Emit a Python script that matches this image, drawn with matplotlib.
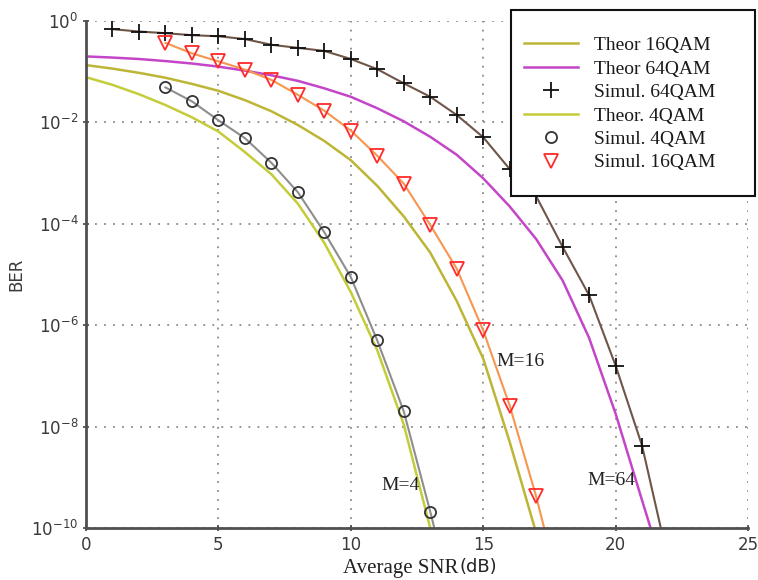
import matplotlib
matplotlib.use("Agg")
import matplotlib.pyplot as plt
from matplotlib.patches import Rectangle

# theoretical curves (at integer SNR)
snr_th4 = [0, 1, 2, 3, 4, 5, 6, 7, 8, 9, 10, 11, 12, 13, 13.2]
ber_th4 = [7.8e-2, 5.5e-2, 3.6e-2, 2.2e-2, 1.26e-2, 6.6e-3, 2.6e-3, 9.5e-4,
           2.5e-4, 4.2e-5, 4.5e-6, 3.2e-7, 1.1e-8, 1.0e-10, 4e-11]

snr_th16 = [0, 1, 2, 3, 4, 5, 6, 7, 8, 9, 10, 11, 12, 13, 14, 15, 16, 17]
ber_th16 = [1.35e-1, 1.15e-1, 9.5e-2, 7.6e-2, 5.75e-2, 4.2e-2, 2.75e-2, 1.66e-2,
            8.9e-3, 4.3e-3, 1.8e-3, 5.6e-4, 1.4e-4, 2.7e-5, 3.0e-6, 2.2e-7,
            5.0e-9, 8e-11]

snr_th64 = [0, 1, 2, 3, 4, 5, 6, 7, 8, 9, 10, 11, 12, 13, 14, 15, 16, 17, 18,
            19, 20, 21, 21.5]
ber_th64 = [2.0e-1, 1.9e-1, 1.78e-1, 1.62e-1, 1.45e-1, 1.26e-1, 1.05e-1, 8.5e-2,
            6.6e-2, 4.7e-2, 3.2e-2, 1.9e-2, 1.05e-2, 5.2e-3, 2.3e-3, 7.9e-4,
            2.2e-4, 5.0e-5, 7.6e-6, 5.6e-7, 1.8e-8, 3.5e-10, 5e-11]

# simulated points
snr_sim4 = [3, 4, 5, 6, 7, 8, 9, 10, 11, 12, 13]
ber_sim4 = [4.9e-2, 2.6e-2, 1.1e-2, 4.9e-3, 1.6e-3, 4.2e-4, 6.8e-5, 8.9e-6,
            5.0e-7, 2.0e-8, 2.1e-10]

snr_sim16 = [3, 4, 5, 6, 7, 8, 9, 10, 11, 12, 13, 14, 15, 16, 17]
ber_sim16 = [3.7e-1, 2.3e-1, 1.6e-1, 1.1e-1, 6.9e-2, 3.5e-2, 1.7e-2, 6.9e-3,
             2.2e-3, 6.2e-4, 9.5e-5, 1.3e-5, 7.9e-7, 2.6e-8, 4.2e-10]

snr_sim64 = [1, 2, 3, 4, 5, 6, 7, 8, 9, 10, 11, 12, 13, 14, 15, 16, 17, 18,
             19, 20, 21]
ber_sim64 = [6.9e-1, 6.2e-1, 5.75e-1, 5.25e-1, 5.0e-1, 4.4e-1, 3.4e-1, 2.95e-1,
             2.57e-1, 1.78e-1, 1.12e-1, 5.9e-2, 3.2e-2, 1.4e-2, 5.1e-3, 1.2e-3,
             3.5e-4, 3.5e-5, 3.9e-6, 1.6e-7, 4.2e-9]

# where the simulated lines run out at the bottom of the plot
sim_ends = {4: (13.2, 8e-11), 16: (17.35, 8e-11), 64: (21.75, 8e-11)}

c_th4 = '#c5cc3a'
c_th16 = '#bdb536'
c_th64 = '#c446c8'
serif = 'Liberation Serif'

fig = plt.figure(figsize=(7.58, 5.8), dpi=100)
ax = fig.add_axes([86 / 758, 1 - 528 / 580, 662 / 758, 507 / 580])

th16, = ax.plot(snr_th16, ber_th16, color=c_th16, lw=1.8)
th64, = ax.plot(snr_th64, ber_th64, color=c_th64, lw=1.8)
th4, = ax.plot(snr_th4, ber_th4, color=c_th4, lw=1.8)

ax.plot(snr_sim4 + [sim_ends[4][0]], ber_sim4 + [sim_ends[4][1]], color='#8e8e8e', lw=1.5)
ax.plot(snr_sim16 + [sim_ends[16][0]], ber_sim16 + [sim_ends[16][1]], color='#f6964f', lw=1.5)
ax.plot(snr_sim64 + [sim_ends[64][0]], ber_sim64 + [sim_ends[64][1]], color='#6e5548', lw=1.5)

s64, = ax.plot(snr_sim64, ber_sim64, ls='none', marker='+', ms=11, mew=1.3, color='#111111')
s4, = ax.plot(snr_sim4, ber_sim4, ls='none', marker='o', ms=8, mew=1.3,
              mfc='none', mec='#333333')
s16, = ax.plot(snr_sim16, ber_sim16, ls='none', marker='v', ms=10, mew=1.3,
               mfc='none', mec='#ff2a2a')

ax.set_yscale('log')
ax.set_xlim(0, 25)
ax.set_ylim(1e-10, 1)
ax.set_xticks([0, 5, 10, 15, 20, 25])
ax.set_yticks([1e-10, 1e-8, 1e-6, 1e-4, 1e-2, 1])
ax.minorticks_off()
ax.set_yticklabels(['$10^{-10}$', '$10^{-8}$', '$10^{-6}$', '$10^{-4}$', '$10^{-2}$', '$10^{0}$'])
ax.tick_params(axis='both', direction='inout', length=5, width=1.2, color='#444444',
               labelsize=12, labelcolor='#3a3a3a')
ax.tick_params(axis='x', pad=3)
ax.tick_params(axis='y', pad=3)
ax.grid(True, color='#8a8a8a', ls=(0, (1, 4)), lw=1.3)

for side in ['top', 'right']:
    ax.spines[side].set_visible(False)
for side in ['left', 'bottom']:
    ax.spines[side].set_color('#505050')
    ax.spines[side].set_linewidth(2)

ax.set_ylabel('BER', fontsize=12, color='#3a3a3a')
ax.yaxis.set_label_coords(-61 / 662, 0.5)

fig.text(458 / 758, 1 - 568 / 580, 'Average SNR', ha='right', va='center',
         family=serif, fontsize=15, color='#222222')
fig.text(459 / 758, 1 - 567 / 580, '(dB)', ha='left', va='center',
         fontsize=13, color='#222222')

ax.text(15.5, 10 ** -6.71, 'M=16', family=serif, fontsize=14,
        color='#222222', va='center')
ax.text(18.94, 10 ** -9.07, 'M=64', family=serif, fontsize=14,
        color='#222222', va='center')
ax.text(11.16, 10 ** -9.17, 'M=4', family=serif, fontsize=14,
        color='#222222', va='center')

# legend box hangs outside the axes, top right
x0, y0 = 511 / 758, 1 - 196 / 580
w, h = 244 / 758, 186 / 580
fig.patches.append(Rectangle((x0, y0), w, h, transform=fig.transFigure,
                             facecolor='white', edgecolor='#111111', lw=1.5, zorder=5))
leg = fig.legend([th16, th64, s64, th4, s4, s16],
                 ['Theor 16QAM', 'Theor 64QAM', 'Simul. 64QAM', 'Theor. 4QAM',
                  'Simul. 4QAM', 'Simul. 16QAM'],
                 loc='center left', bbox_to_anchor=(x0 - 5 / 758, y0 + h / 2 - 1 / 580),
                 frameon=False, prop={'family': serif, 'size': 14},
                 handlelength=2.8, handletextpad=0.8, labelspacing=0.3, borderpad=0.4)
leg.set_zorder(6)
for t in leg.get_texts():
    t.set_color('#1a1a1a')

fig.savefig('out.png', dpi=100)
